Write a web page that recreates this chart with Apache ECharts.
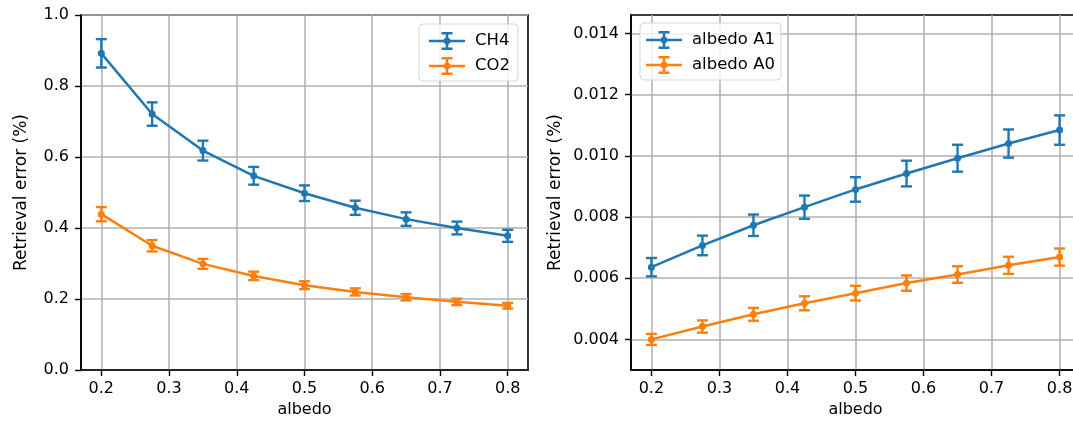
<!DOCTYPE html>
<html>
<head>
<meta charset="utf-8">
<script src="https://cdn.jsdelivr.net/npm/echarts@6/dist/echarts.min.js"></script>
<style>
  html, body { margin: 0; padding: 0; background: #fff; }
  #chart { width: 1073px; height: 423px; }
</style>
</head>
<body>
<div id="chart"></div>
<script>
// Surface albedo values shared by both panels
const albedo = [0.2, 0.275, 0.35, 0.425, 0.5, 0.575, 0.65, 0.725, 0.8];

// Left panel: retrieval error of CH4 and CO2
const ch4 = [0.892, 0.721, 0.618, 0.547, 0.498, 0.457, 0.425, 0.400, 0.378];
const ch4Err = [0.040, 0.033, 0.028, 0.025, 0.022, 0.020, 0.019, 0.018, 0.017];
const co2 = [0.439, 0.350, 0.299, 0.265, 0.239, 0.220, 0.205, 0.192, 0.181];
const co2Err = [0.020, 0.016, 0.014, 0.012, 0.011, 0.010, 0.009, 0.009, 0.008];

// Right panel: retrieval error of the albedo coefficients
const albedoA1 = [0.00636, 0.00707, 0.00773, 0.00832, 0.00890, 0.00942, 0.00992, 0.01040, 0.01084];
const albedoA1Err = [0.00030, 0.00032, 0.00035, 0.00038, 0.00040, 0.00042, 0.00044, 0.00046, 0.00048];
const albedoA0 = [0.00400, 0.00442, 0.00482, 0.00518, 0.00551, 0.00584, 0.00612, 0.00642, 0.00669];
const albedoA0Err = [0.00018, 0.00020, 0.00021, 0.00023, 0.00024, 0.00025, 0.00027, 0.00028, 0.00028];

// Tick labels
const xTicks = [0.2, 0.3, 0.4, 0.5, 0.6, 0.7, 0.8];
const leftYTicks = [0.0, 0.2, 0.4, 0.6, 0.8, 1.0];
const rightYTicks = [0.004, 0.006, 0.008, 0.010, 0.012, 0.014];

const BLUE = '#1f77b4';
const ORANGE = '#ff7f0e';
const FONT = 'DejaVu Sans';
const FS = 16;

const chart = echarts.init(document.getElementById('chart'), null, { renderer: 'canvas' });

// Legend handle: line with an error bar and a dot (right strip is a spacer)
const ERR_ICON = 'path://M0,7.75h36v2.5h-36z M16.75,0h2.5v18h-2.5z M12.5,0h11v2.5h-11z M12.5,15.5h11v2.5h-11z ' +
  'M19.4,5.6L21.4,7.6L21.4,10.4L19.4,12.4L16.6,12.4L14.6,10.4L14.6,7.6L16.6,5.6z M40.99,8.99h0.01v0.01h-0.01z';

function points(vals) {
  return albedo.map((a, i) => [a, vals[i]]);
}
function bars(vals, errs) {
  return albedo.map((a, i) => [a, vals[i] - errs[i], vals[i] + errs[i]]);
}

function errorBarRenderer(color) {
  return function (params, api) {
    const x = api.value(0);
    const lo = api.coord([x, api.value(1)]);
    const hi = api.coord([x, api.value(2)]);
    const cap = 5.5;
    const style = { stroke: color, lineWidth: 2.4, fill: null };
    return {
      type: 'group',
      children: [
        { type: 'line', shape: { x1: hi[0], y1: hi[1], x2: lo[0], y2: lo[1] }, style: style },
        { type: 'line', shape: { x1: hi[0] - cap, y1: hi[1], x2: hi[0] + cap, y2: hi[1] }, style: style },
        { type: 'line', shape: { x1: lo[0] - cap, y1: lo[1], x2: lo[0] + cap, y2: lo[1] }, style: style }
      ]
    };
  };
}

function lineSeries(name, data, color, idx) {
  return {
    type: 'line', name: name, data: data,
    xAxisIndex: idx, yAxisIndex: idx,
    showSymbol: true, symbol: 'circle', symbolSize: 7,
    lineStyle: { color: color, width: 2.5 },
    itemStyle: { color: color },
    emphasis: { disabled: true },
    animation: false, z: 3
  };
}
function errSeries(name, data, color, idx) {
  return {
    type: 'custom', name: name, data: data,
    xAxisIndex: idx, yAxisIndex: idx,
    renderItem: errorBarRenderer(color),
    encode: { x: 0, y: [1, 2] },
    itemStyle: { color: color },
    animation: false, z: 2, silent: true
  };
}

const labelStyle = { color: '#000', fontFamily: FONT, fontSize: FS };
const legendText = { color: '#000', fontFamily: FONT, fontSize: 16.5 };

function xAxis(gridIndex) {
  return {
    type: 'value', gridIndex: gridIndex,
    min: 0.17, max: 0.83,
    name: 'albedo', nameLocation: 'middle', nameGap: 26,
    nameTextStyle: labelStyle,
    axisLine: { onZero: false, lineStyle: { color: '#000', width: 1.6 } },
    axisTick: { show: true, length: 6, inside: false, customValues: xTicks, lineStyle: { color: '#000', width: 1.4 } },
    axisLabel: Object.assign({ customValues: xTicks, margin: 11, formatter: v => v.toFixed(1) }, labelStyle),
    splitLine: { show: true, lineStyle: { color: '#b0b0b0', width: 1.5 } }
  };
}

const option = {
  backgroundColor: '#fff',
  animation: false,
  grid: [
    { left: 81, top: 15, width: 447, height: 355, show: true, borderColor: '#000', borderWidth: 1.6,
      backgroundColor: 'transparent', outerBoundsMode: 'none', containLabel: false },
    { left: 631, top: 15, width: 449, height: 355, show: true, borderColor: '#000', borderWidth: 1.6,
      backgroundColor: 'transparent', outerBoundsMode: 'none', containLabel: false }
  ],
  xAxis: [xAxis(0), xAxis(1)],
  yAxis: [
    {
      type: 'value', gridIndex: 0, min: 0, max: 1, interval: 0.2,
      name: 'Retrieval error (%)', nameLocation: 'middle', nameGap: 51, nameRotate: 90,
      nameTextStyle: Object.assign({}, labelStyle, { fontSize: 17 }),
      axisLine: { show: true, lineStyle: { color: '#000', width: 1.6 } },
      axisTick: { show: true, length: 6, lineStyle: { color: '#000', width: 1.4 } },
      axisLabel: Object.assign({ margin: 12, formatter: v => v.toFixed(1) }, labelStyle),
      splitLine: { show: true, lineStyle: { color: '#b0b0b0', width: 1.5 } }
    },
    {
      type: 'value', gridIndex: 1, min: 0.003, max: 0.0146,
      name: 'Retrieval error (%)', nameLocation: 'middle', nameGap: 67, nameRotate: 90,
      nameTextStyle: Object.assign({}, labelStyle, { fontSize: 17 }),
      axisLine: { show: true, lineStyle: { color: '#000', width: 1.6 } },
      axisTick: { show: true, length: 6, customValues: rightYTicks, lineStyle: { color: '#000', width: 1.4 } },
      axisLabel: Object.assign({ customValues: rightYTicks, margin: 12, formatter: v => v.toFixed(3) }, labelStyle),
      splitLine: { show: true, lineStyle: { color: '#b0b0b0', width: 1.5 } }
    }
  ],
  legend: [
    {
      data: ['CH4', 'CO2'], orient: 'vertical', left: 419, top: 24,
      icon: ERR_ICON, itemWidth: 41, itemHeight: 18, itemGap: 7,
      padding: [8, 8, 6, 10],
      backgroundColor: 'rgba(255,255,255,0.8)', borderColor: '#d5d5d5', borderWidth: 1, borderRadius: 4,
      textStyle: legendText, itemStyle: { borderWidth: 0 }, selectedMode: false
    },
    {
      data: ['albedo A1', 'albedo A0'], orient: 'vertical', left: 640, top: 23,
      icon: ERR_ICON, itemWidth: 41, itemHeight: 18, itemGap: 7,
      padding: [8, 6, 6, 6],
      backgroundColor: 'rgba(255,255,255,0.8)', borderColor: '#d5d5d5', borderWidth: 1, borderRadius: 4,
      textStyle: legendText, itemStyle: { borderWidth: 0 }, selectedMode: false
    }
  ],
  series: [
    errSeries('CH4', bars(ch4, ch4Err), BLUE, 0),
    lineSeries('CH4', points(ch4), BLUE, 0),
    errSeries('CO2', bars(co2, co2Err), ORANGE, 0),
    lineSeries('CO2', points(co2), ORANGE, 0),
    errSeries('albedo A1', bars(albedoA1, albedoA1Err), BLUE, 1),
    lineSeries('albedo A1', points(albedoA1), BLUE, 1),
    errSeries('albedo A0', bars(albedoA0, albedoA0Err), ORANGE, 1),
    lineSeries('albedo A0', points(albedoA0), ORANGE, 1)
  ]
};

chart.setOption(option);
</script>
</body>
</html>
